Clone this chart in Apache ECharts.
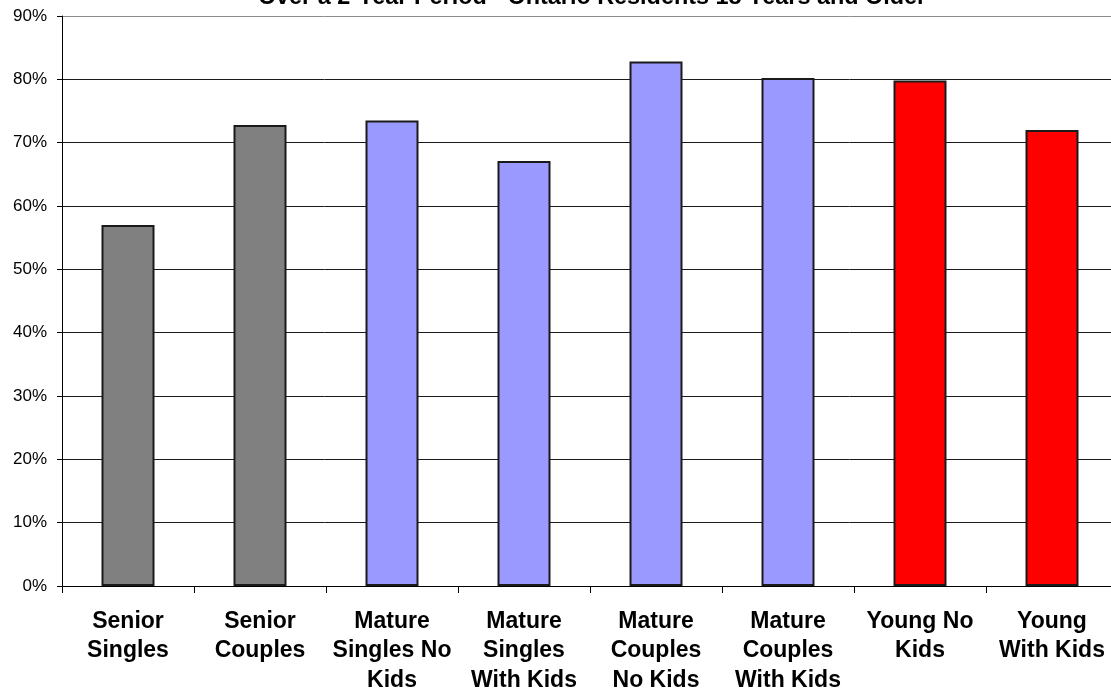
<!DOCTYPE html>
<html>
<head>
<meta charset="utf-8">
<script src="https://cdn.jsdelivr.net/npm/echarts@6/dist/echarts.min.js"></script>
<style>
  html, body { margin: 0; padding: 0; background: #fff; }
  #chart { width: 1111px; height: 690px; }
</style>
</head>
<body>
<div id="chart"></div>
<script>
// Household segments along the x axis
const categories = [
  'Senior\nSingles',
  'Senior\nCouples',
  'Mature\nSingles No\nKids',
  'Mature\nSingles\nWith Kids',
  'Mature\nCouples\nNo Kids',
  'Mature\nCouples\nWith Kids',
  'Young No\nKids',
  'Young\nWith Kids'
];

// Share of residents (%) per segment
const values = [57.0, 72.8, 73.5, 67.1, 82.8, 80.2, 79.8, 72.0];

// Life-stage group of each segment, and the fill used for each group
const groups = ['senior', 'senior', 'mature', 'mature', 'mature', 'mature', 'young', 'young'];
const groupColors = { senior: '#808080', mature: '#9999FF', young: '#FF0000' };

// Y axis ticks (%)
const yTicks = [0, 10, 20, 30, 40, 50, 60, 70, 80, 90];

const titleText = 'Over a 2-Year Period - Ontario Residents 18 Years and Older';
const FONT = '"Liberation Sans", Arial, Helvetica, sans-serif';

const chart = echarts.init(document.getElementById('chart'), null, { renderer: 'canvas' });

// top border of the plot area is grey, inner gridlines black
const splitColors = yTicks.map((t, i) => (i === yTicks.length - 1 ? '#8c8c8c' : '#1a1a1a'));

chart.setOption({
  animation: false,
  backgroundColor: '#ffffff',
  graphic: [{
    type: 'text',
    x: 592,
    y: 9,
    style: {
      text: titleText,
      fontFamily: FONT,
      fontSize: 23.4,
      fontWeight: 'bold',
      fill: '#000',
      textAlign: 'center',
      textVerticalAlign: 'bottom'
    }
  }],
  // plot area runs slightly past the right edge of the canvas; labels may overflow
  grid: { left: 62, top: 16, width: 1056, height: 570, containLabel: false, outerBoundsMode: 'none' },
  xAxis: {
    type: 'category',
    data: categories,
    boundaryGap: true,
    axisLine: { show: true, lineStyle: { color: '#000', width: 1 } },
    axisTick: { show: true, alignWithLabel: false, length: 7, lineStyle: { color: '#000' } },
    axisLabel: {
      interval: 0,
      margin: 20.5,
      color: '#000',
      fontFamily: FONT,
      fontSize: 23,
      fontWeight: 'bold',
      lineHeight: 29.5,
      align: 'center'
    },
    splitLine: { show: false }
  },
  yAxis: {
    type: 'value',
    min: yTicks[0],
    max: yTicks[yTicks.length - 1],
    interval: 10,
    axisLine: { show: true, lineStyle: { color: '#000', width: 1 } },
    axisTick: { show: true, length: 5, lineStyle: { color: '#000' } },
    axisLabel: {
      formatter: '{value}%',
      margin: 15,
      color: '#000',
      fontFamily: FONT,
      fontSize: 17
    },
    splitLine: { show: true, lineStyle: { color: splitColors, width: 1 } }
  },
  series: [{
    type: 'bar',
    barWidth: 53,
    data: values.map((v, i) => ({
      value: v,
      itemStyle: {
        color: groupColors[groups[i]],
        borderColor: '#1a1a1a',
        borderWidth: 2
      }
    }))
  }]
});
</script>
</body>
</html>
